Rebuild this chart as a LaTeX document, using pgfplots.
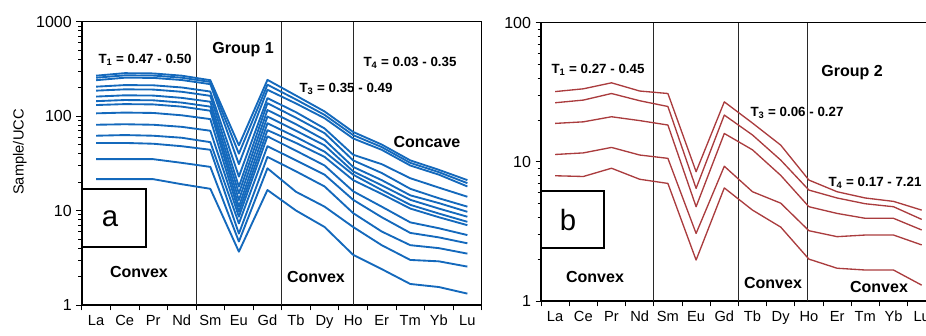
\documentclass[border=0pt]{standalone}
\usepackage{fontspec}
\setmainfont{Liberation Sans}
\usepackage{pgfplots}
\usepackage{pgfplotstable}
\pgfplotsset{compat=1.18}
\definecolor{ablue}{RGB}{20,105,188}
\definecolor{bred}{RGB}{170,60,62}
\definecolor{sep}{RGB}{40,40,40}

% Panel a: Group 1 (14 samples), columns = samples, rows = elements
\pgfplotstableread{
x  L1  L2  L3  L4  L5  L6  L7  L8  L9  L10 L11 L12 L13 L14
0  268 255 240 205 186 161 144 131 107 81  62  52  35  21.5
1  285 270 255 213 192 166 148 134 109 82  63  52  35  21.5
2  283 269 254 212 191 165 147 133 108 81  62  51  35  21.5
3  268 255 241 201 181 156 139 126 102 77  59  48  32  19
4  240 230 218 182 164 142 126 114 93  70  53  44  29  17
5  49  40  31  22.9 17.9 15.2 12.9 11 9.7 8.6 7.3 5.7 4.7 3.67
6  242 215 190 155 137 116 99  84  71  61  48  37  28  16.5
7  165 150 136 110 96  82  70  60  52  43  34  26  15.8 10
8  112 103 95  74  66  56  49  42  37  30  24  18  11  6.7
9  68  63  58  39  34  29  26  24  21  16  13  9.4 6.7 3.4
10 50  47  44  31  25  21  18.5 16.5 15 11  8.5 6.0 4.3 2.4
11 34  32  30  22  17  14.5 13 11.5 10.5 7.5 5.8 4.3 3.0 1.67
12 27  25.5 24 17.5 13.5 12 10.5 9.3 8.5 6.5 5.2 4.0 2.9 1.55
13 21  19.5 18 14  11  9.7 8.6 7.6 7.0 5.5 4.5 3.5 2.55 1.32
}\tblA

% Panel b: Group 2 (5 samples)
\pgfplotstableread{
x  B1   B2   B3   B4   B5
0  32   26.6 18.9 11.3 7.95
1  33.5 27.8 19.4 11.6 7.85
2  37   31   21.1 12.7 9.0
3  32.3 27.5 19.8 11.2 7.5
4  31   25   18.4 10.6 7.0
5  8.5  6.45 4.76 3.06 1.97
6  27   21.7 16   9.3  6.5
7  19   15.6 12.2 6.1  4.5
8  13.2 10.3 8.0  5.05 3.4
9  7.4  6.27 4.76 3.2 2.0
10 6.1  5.5  4.26 2.9  1.72
11 5.5  5.0  3.93 2.98 1.67
12 5.2  4.76 3.93 2.98 1.67
13 4.5  3.86 3.24 2.53 1.30
}\tblB

\begin{document}
\begin{tikzpicture}
% ---------------- Panel a ----------------
\begin{axis}[
  ymode=log,
  anchor=south west, scale only axis,
  at={(61.35pt,-228.75pt)}, width=299.9pt, height=212.5pt,
  xmin=-0.5, xmax=13.5, ymin=1, ymax=1000,
  xtick={-0.5,0.5,...,13.5}, xticklabels={},
  extra x ticks={0,1,...,13},
  extra x tick labels={La,Ce,Pr,Nd,Sm,Eu,Gd,Tb,Dy,Ho,Er,Tm,Yb,Lu},
  extra x tick style={major tick length=0pt},
  ytick={1,10,100,1000}, yticklabels={1,10,100,1000},
  minor ytick={2,3,...,9,20,30,...,90,200,300,...,900},
  tick align=outside, xtick pos=bottom, ytick pos=left,
  major tick length=4pt, minor tick length=2.5pt,
  axis line style={line width=1.1pt},
  tick style={black, line width=0.6pt},
  xticklabel style={font=\fontsize{11}{11}\selectfont, yshift=-4pt},
  yticklabel style={font=\fontsize{12}{12}\selectfont},
  ylabel={Sample/UCC},
  ylabel style={at={(axis description cs:-0.155,0.54)}, anchor=center, font=\fontsize{11}{11}\selectfont},
]
\draw[sep, line width=0.8pt] (axis cs:3.5,1) -- (axis cs:3.5,1000);
\draw[sep, line width=0.8pt] (axis cs:6.5,1) -- (axis cs:6.5,1000);
\draw[sep, line width=0.8pt] (axis cs:9,1) -- (axis cs:9,1000);
\pgfplotsinvokeforeach{14,13,...,1}{
  \addplot[ablue, line width=1.4pt, line join=round] table[x=x, y=L#1] {\tblA};
}
\end{axis}
% ---------------- Panel b ----------------
\begin{axis}[
  ymode=log,
  anchor=south west, scale only axis,
  at={(405.75pt,-225.75pt)}, width=296.1pt, height=208.7pt,
  xmin=-0.5, xmax=13.5, ymin=1, ymax=100,
  xtick={-0.5,0.5,...,13.5}, xticklabels={},
  extra x ticks={0,1,...,13},
  extra x tick labels={La,Ce,Pr,Nd,Sm,Eu,Gd,Tb,Dy,Ho,Er,Tm,Yb,Lu},
  extra x tick style={major tick length=0pt},
  ytick={1,10,100}, yticklabels={1,10,100},
  minor ytick={2,3,...,9,20,30,...,90},
  tick align=outside, xtick pos=bottom, ytick pos=left,
  major tick length=4pt, minor tick length=2.5pt,
  axis line style={line width=1.1pt},
  tick style={black, line width=0.6pt},
  xticklabel style={font=\fontsize{11}{11}\selectfont, yshift=-4pt},
  yticklabel style={font=\fontsize{12}{12}\selectfont},
]
\draw[sep, line width=0.8pt] (axis cs:3.5,1) -- (axis cs:3.5,100);
\draw[sep, line width=0.8pt] (axis cs:6.5,1) -- (axis cs:6.5,100);
\draw[sep, line width=0.8pt] (axis cs:8.95,1) -- (axis cs:8.95,100);
\pgfplotsinvokeforeach{1,...,5}{
  \addplot[bred, line width=1.0pt, line join=round] table[x=x, y=B#1] {\tblB};
}
\end{axis}
% ---------------- Annotations (pixel coordinates) ----------------
\begin{scope}[x=0.75pt, y=-0.75pt]
  \tikzset{tl/.style={font=\bfseries\fontsize{10}{12}\selectfont, inner sep=0pt},
           gl/.style={font=\bfseries\fontsize{12}{14}\selectfont, inner sep=0pt}}
  % panel a
  \node[tl] at (145,60) {T\textsubscript{1} = 0.47 - 0.50};
  \node[gl] at (243,50) {Group 1};
  \node[tl] at (410,63) {T\textsubscript{4} = 0.03 - 0.35};
  \node[tl] at (346,89) {T\textsubscript{3} = 0.35 - 0.49};
  \node[gl] at (427,142) {Concave};
  \node[gl] at (139,272) {Convex};
  \node[gl] at (316,277) {Convex};
  \draw[black, line width=0.8pt, fill=white] (82,189) rectangle (146,247);
  \node[font=\fontsize{22}{22}\selectfont, inner sep=0pt] at (110,219) {a};
  % panel b
  \node[tl] at (598,70) {T\textsubscript{1} = 0.27 - 0.45};
  \node[gl] at (852,73) {Group 2};
  \node[tl] at (797,113) {T\textsubscript{3} = 0.06 - 0.27};
  \node[tl] at (875,183) {T\textsubscript{4} = 0.17 - 7.21};
  \node[gl] at (595,277) {Convex};
  \node[gl] at (773,283) {Convex};
  \node[gl] at (879,287) {Convex};
  \draw[black, line width=0.8pt, fill=white] (541,191) rectangle (604,248);
  \node[font=\fontsize{22}{22}\selectfont, inner sep=0pt] at (568,220) {b};
  \pgfresetboundingbox
  \useasboundingbox (0,0) rectangle (926,336);
\end{scope}
\end{tikzpicture}
\end{document}
